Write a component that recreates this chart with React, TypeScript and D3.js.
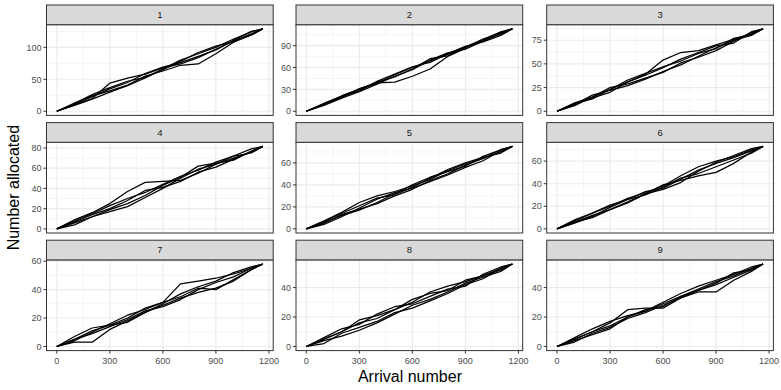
import React from "react";
import * as d3 from "d3";

// arrival index at which each run was sampled
const ARRIVALS = [0, 100, 200, 300, 400, 500, 600, 700, 800, 900, 1000, 1100, 1166];

// cumulative number allocated, 5 runs per arm (panel)
const ARM1 = [
  [0, 10, 20, 44, 52, 58, 68, 74, 84, 97, 110, 121, 129],
  [0, 13, 24, 32, 41, 55, 63, 72, 74, 90, 108, 120, 129],
  [0, 12, 26, 37, 47, 53, 66, 80, 90, 100, 113, 124, 129],
  [0, 9, 19, 30, 40, 52, 65, 78, 92, 102, 109, 119, 129],
  [0, 11, 23, 35, 45, 59, 69, 76, 86, 96, 111, 125, 129],
];
const ARM2 = [
  [0, 11, 21, 30, 40, 47, 58, 72, 76, 88, 97, 107, 113],
  [0, 9, 19, 31, 39, 40, 48, 58, 75, 86, 98, 109, 113],
  [0, 10, 20, 28, 41, 51, 61, 67, 79, 89, 95, 104, 113],
  [0, 8, 18, 27, 37, 48, 57, 70, 80, 85, 96, 106, 113],
  [0, 10, 21, 30, 38, 50, 60, 69, 78, 88, 99, 108, 113],
];
const ARM3 = [
  [0, 9, 15, 23, 31, 39, 54, 62, 64, 70, 76, 82, 87],
  [0, 7, 17, 22, 27, 34, 42, 49, 58, 67, 75, 80, 87],
  [0, 8, 14, 20, 31, 38, 46, 55, 62, 69, 72, 84, 87],
  [0, 6, 15, 25, 29, 35, 41, 51, 57, 64, 74, 83, 87],
  [0, 8, 13, 23, 33, 40, 47, 53, 61, 66, 77, 81, 87],
];
const ARM4 = [
  [0, 9, 16, 25, 37, 46, 47, 48, 55, 64, 70, 76, 81.5],
  [0, 6, 12, 19, 25, 33, 43, 51, 62, 65, 68, 77, 81.5],
  [0, 8, 15, 23, 30, 36, 44, 52, 58, 66, 72, 75, 81.5],
  [0, 4, 12, 17, 22, 31, 40, 50, 59, 64, 72, 79, 81.5],
  [0, 7, 14, 20, 28, 38, 41, 47, 56, 61, 69, 76, 81.5],
];
const ARM5 = [
  [0, 7, 15, 24, 30, 34, 39, 45, 53, 59, 64, 70, 75],
  [0, 6, 12, 17, 24, 32, 40, 47, 52, 57, 66, 72, 75],
  [0, 4, 11, 19, 27, 33, 37, 43, 49, 56, 62, 71, 75],
  [0, 7, 14, 21, 28, 31, 38, 46, 54, 60, 65, 69, 75],
  [0, 5, 13, 18, 23, 30, 36, 44, 50, 58, 64, 72, 75],
];
const ARM6 = [
  [0, 7, 14, 20, 27, 32, 38, 47, 55, 60, 64, 70, 73],
  [0, 6, 12, 17, 23, 31, 39, 43, 47, 50, 58, 68, 73],
  [0, 5, 11, 19, 26, 33, 36, 44, 52, 58, 63, 69, 73],
  [0, 8, 14, 21, 26, 30, 37, 45, 49, 55, 61, 67, 73],
  [0, 6, 10, 17, 24, 31, 35, 41, 51, 59, 65, 71, 73],
];
const ARM7 = [
  [0, 5, 11, 15, 20, 27, 31, 44, 46, 48, 51, 55, 58],
  [0, 3, 3, 12, 18, 24, 29, 34, 38, 41, 46, 54, 58],
  [0, 7, 13, 15, 17, 24, 30, 37, 42, 46, 52, 56, 58],
  [0, 5, 9, 14, 19, 25, 28, 33, 40, 45, 49, 55, 58],
  [0, 4, 10, 16, 22, 26, 31, 35, 41, 40, 47, 54, 58],
];
const ARM8 = [
  [0, 5, 10, 18, 21, 25, 30, 37, 41, 44, 48, 53, 56],
  [0, 4, 7, 11, 16, 22, 28, 32, 37, 43, 47, 51, 56],
  [0, 6, 12, 15, 22, 27, 29, 34, 39, 41, 49, 54, 56],
  [0, 2, 9, 13, 17, 23, 26, 31, 36, 42, 46, 53, 56],
  [0, 5, 10, 16, 19, 25, 32, 36, 38, 45, 48, 52, 56],
];
const ARM9 = [
  [0, 5, 10, 16, 25, 26, 26, 33, 38, 42, 47, 52, 56],
  [0, 3, 9, 13, 19, 23, 28, 33, 37, 37, 45, 51, 56],
  [0, 6, 12, 17, 21, 24, 30, 36, 41, 45, 49, 54, 56],
  [0, 5, 10, 14, 20, 25, 27, 34, 39, 44, 48, 53, 56],
  [0, 4, 8, 12, 20, 24, 29, 34, 38, 43, 50, 52, 56],
];

const ARM_LABELS = ["1", "2", "3", "4", "5", "6", "7", "8", "9"];
const ARM_RUNS = [ARM1, ARM2, ARM3, ARM4, ARM5, ARM6, ARM7, ARM8, ARM9];

// y breaks per panel (free y scales)
const Y_BREAKS = [
  [0, 50, 100],
  [0, 30, 60, 90],
  [0, 25, 50, 75],
  [0, 20, 40, 60, 80],
  [0, 20, 40, 60],
  [0, 20, 40, 60],
  [0, 20, 40, 60],
  [0, 20, 40],
  [0, 20, 40],
];
const X_BREAKS = [0, 300, 600, 900, 1200];

const W = 781;
const H = 390;
const COL_LEFT = [46.5, 296, 546.7];
const PANEL_W = 226.7;
const ROW_TOP = [5, 122.6, 240.2];
const STRIP_H = 19.7;
const PANEL_H = 90.7;
const FONT = "'Liberation Sans', Arial, Helvetica, sans-serif";

function minorBreaks(breaks, lo, hi) {
  const step = breaks[1] - breaks[0];
  const out = [];
  for (let v = breaks[0] - step / 2; v <= hi; v += step) {
    if (v >= lo) out.push(v);
  }
  return out;
}

function Panel({ idx }) {
  const col = idx % 3;
  const row = Math.floor(idx / 3);
  const left = COL_LEFT[col];
  const top = ROW_TOP[row] + STRIP_H;
  const runs = ARM_RUNS[idx];

  const xMin = d3.min(ARRIVALS);
  const xMax = d3.max(ARRIVALS);
  const xPad = (xMax - xMin) * 0.05;
  const x = d3
    .scaleLinear()
    .domain([xMin - xPad, xMax + xPad])
    .range([left, left + PANEL_W]);

  const yMax = d3.max(runs, (r) => d3.max(r));
  const yPad = yMax * 0.05;
  const y = d3
    .scaleLinear()
    .domain([-yPad, yMax + yPad])
    .range([top + PANEL_H, top]);

  const line = d3
    .line()
    .x((d, i) => x(ARRIVALS[i]))
    .y((d) => y(d));

  const yb = Y_BREAKS[idx];
  const yMinor = minorBreaks(yb, y.domain()[0], y.domain()[1]);
  const xMinor = minorBreaks(X_BREAKS, x.domain()[0], x.domain()[1]);
  const bottomRow = row === 2;

  return (
    <g>
      <rect x={left} y={top} width={PANEL_W} height={PANEL_H} fill="white" />
      {yMinor.map((v) => (
        <line key={"ym" + v} x1={left} x2={left + PANEL_W} y1={y(v)} y2={y(v)} stroke="#EBEBEB" strokeWidth={0.55} />
      ))}
      {xMinor.map((v) => (
        <line key={"xm" + v} x1={x(v)} x2={x(v)} y1={top} y2={top + PANEL_H} stroke="#EBEBEB" strokeWidth={0.55} />
      ))}
      {yb.map((v) => (
        <line key={"yM" + v} x1={left} x2={left + PANEL_W} y1={y(v)} y2={y(v)} stroke="#EBEBEB" strokeWidth={1.1} />
      ))}
      {X_BREAKS.map((v) => (
        <line key={"xM" + v} x1={x(v)} x2={x(v)} y1={top} y2={top + PANEL_H} stroke="#EBEBEB" strokeWidth={1.1} />
      ))}
      {runs.map((r, i) => (
        <path key={i} d={line(r)} fill="none" stroke="black" strokeWidth={1.25} strokeLinejoin="round" />
      ))}
      <rect x={left} y={top} width={PANEL_W} height={PANEL_H} fill="none" stroke="#333333" strokeWidth={1} />
      {/* strip */}
      <rect x={left} y={ROW_TOP[row]} width={PANEL_W} height={STRIP_H} fill="#D9D9D9" stroke="#333333" strokeWidth={1} />
      <text x={left + PANEL_W / 2} y={ROW_TOP[row] + STRIP_H / 2 + 3.4} textAnchor="middle" fontSize={9.5} fill="#1A1A1A" fontFamily={FONT}>
        {ARM_LABELS[idx]}
      </text>
      {/* y axis */}
      {yb.map((v) => (
        <g key={"yt" + v}>
          <line x1={left - 3} x2={left} y1={y(v)} y2={y(v)} stroke="#333333" strokeWidth={1} />
          <text x={left - 5} y={y(v) + 3.2} textAnchor="end" fontSize={9} fill="#4D4D4D" fontFamily={FONT}>
            {v}
          </text>
        </g>
      ))}
      {/* x axis, bottom row only */}
      {bottomRow &&
        X_BREAKS.map((v) => (
          <g key={"xt" + v}>
            <line x1={x(v)} x2={x(v)} y1={top + PANEL_H} y2={top + PANEL_H + 3} stroke="#333333" strokeWidth={1} />
            <text x={x(v)} y={top + PANEL_H + 13} textAnchor="middle" fontSize={9} fill="#4D4D4D" fontFamily={FONT}>
              {v}
            </text>
          </g>
        ))}
    </g>
  );
}

export default function App() {
  const plotTop = ROW_TOP[0] + STRIP_H;
  const plotBottom = ROW_TOP[2] + STRIP_H + PANEL_H;
  return (
    <svg width={W} height={H} style={{ position: "absolute", left: 0, top: 0, background: "white" }}>
      <rect width={W} height={H} fill="white" />
      {ARM_LABELS.map((_, i) => (
        <Panel key={i} idx={i} />
      ))}
      <text
        x={COL_LEFT[0] + (COL_LEFT[2] + PANEL_W - COL_LEFT[0]) / 2}
        y={382}
        textAnchor="middle"
        fontSize={16}
        fill="black"
        fontFamily={FONT}
      >
        Arrival number
      </text>
      <text
        transform={`translate(${19},${(plotTop + plotBottom) / 2}) rotate(-90)`}
        textAnchor="middle"
        fontSize={16}
        fill="black"
        fontFamily={FONT}
      >
        Number allocated
      </text>
    </svg>
  );
}
